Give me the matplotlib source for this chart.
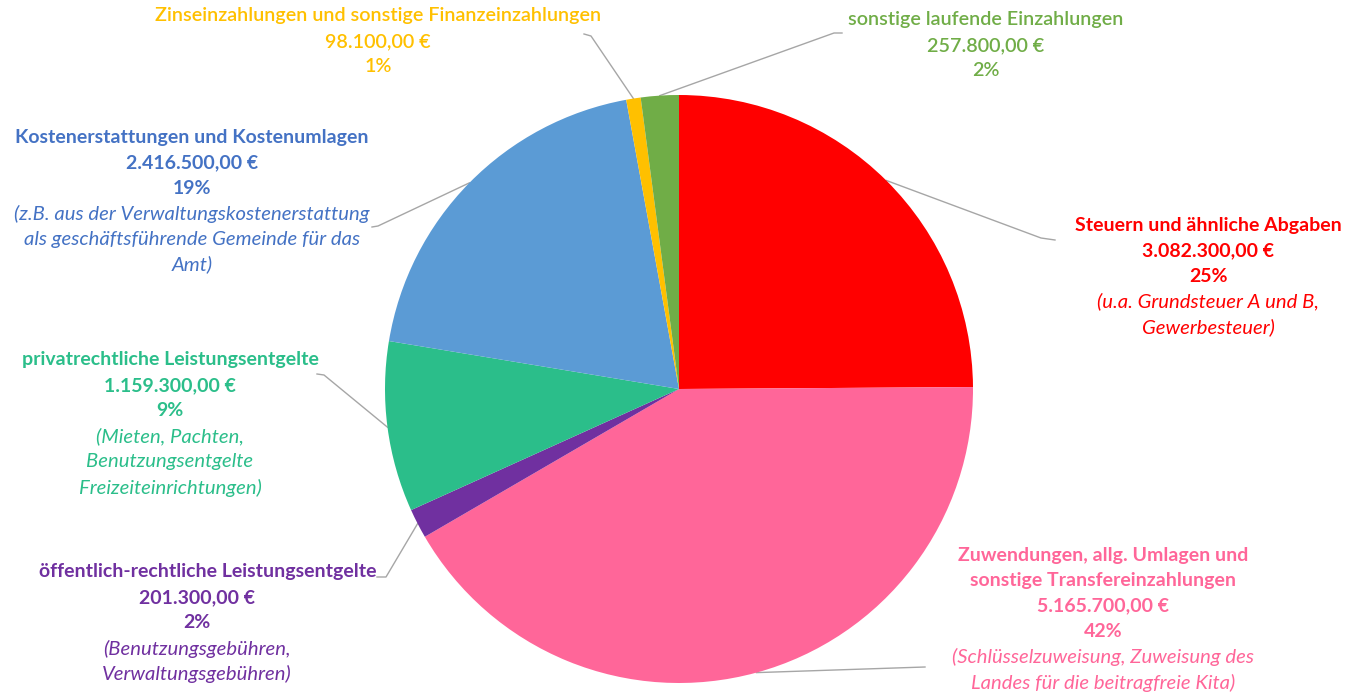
import matplotlib.pyplot as plt
import numpy as np

# Einzahlungen aus laufender Verwaltungstaetigkeit
categories = [
    ['Steuern und ähnliche Abgaben'],
    ['Zuwendungen, allg. Umlagen und', 'sonstige Transfereinzahlungen'],
    ['öffentlich-rechtliche Leistungsentgelte'],
    ['privatrechtliche Leistungsentgelte'],
    ['Kostenerstattungen und Kostenumlagen'],
    ['Zinseinzahlungen und sonstige Finanzeinzahlungen'],
    ['sonstige laufende Einzahlungen'],
]
values = [3082300, 5165700, 201300, 1159300, 2416500, 98100, 257800]
percent_labels = ['25%', '42%', '2%', '9%', '19%', '1%', '2%']
notes = [
    ['(u.a. Grundsteuer A und B,', 'Gewerbesteuer)'],
    ['(Schlüsselzuweisung, Zuweisung des', 'Landes für die beitragfreie Kita)'],
    ['(Benutzungsgebühren,', 'Verwaltungsgebühren)'],
    ['(Mieten, Pachten,', 'Benutzungsentgelte', 'Freizeiteinrichtungen)'],
    ['(z.B. aus der Verwaltungskostenerstattung', 'als geschäftsführende Gemeinde für das', 'Amt)'],
    [],
    [],
]
slice_colors = ['#FF0000', '#FF6699', '#7030A0', '#2BBE8A', '#5B9BD5', '#FFC000', '#70AD47']
text_colors = ['#FF0000', '#FF6699', '#7030A0', '#2BBE8A', '#4472C4', '#FFC000', '#70AD47']

# label layout in pixels from the top of the picture
label_pos = [(1208, 225), (1103, 555), (197, 572), (170, 360), (192, 137), (378, 16), (986, 20)]
title_dx = [0, 0, 11, 0, 0, 0, 0]
leader_pts = [
    [(1055, 240), (1041, 238)],
    [(925, 667)],
    [(377, 577), (386, 577)],
    [(317, 374), (324, 375)],
    [(372, 227), (378, 226)],
    [(584, 34), (591, 36)],
    [(842, 33), (834, 33)],
]
narrow = [False, False, False, False, False, True, True]

W, H = 1353, 693
CX, CY, R = 679, 389, 294
STEP = 25.5


def euro(v):
    s = f"{v:,.2f}"
    return s.replace(',', 'X').replace('.', ',').replace('X', '.') + ' €'


fig = plt.figure(figsize=(W / 100, H / 100), dpi=100)
ax = fig.add_axes([0, 0, 1, 1])

wedges, _ = ax.pie(values, colors=slice_colors, startangle=90, counterclock=False,
                   center=(CX, H - CY), radius=R,
                   wedgeprops=dict(linewidth=0))
ax.set_xlim(0, W)
ax.set_ylim(0, H)
ax.set_aspect('equal')
ax.axis('off')

main_font = ['Lato', 'DejaVu Sans']

for i, w in enumerate(wedges):
    # leader line from label to the middle of the slice edge
    mid = np.deg2rad((w.theta1 + w.theta2) / 2)
    px = CX + R * np.cos(mid)
    py = (H - CY) + R * np.sin(mid)
    xs = [p[0] for p in leader_pts[i]] + [px]
    ys = [H - p[1] for p in leader_pts[i]] + [py]
    ax.plot(xs, ys, color='#A6A6A6', lw=1.0, zorder=0)

    x0, y0 = label_pos[i]
    lines = [(t, 'title') for t in categories[i]]
    lines += [(euro(values[i]), 'bold'), (percent_labels[i], 'bold')]
    lines += [(t, 'italic') for t in notes[i]]
    for k, (t, st) in enumerate(lines):
        y = H - (y0 + k * STEP)
        x = x0 + (title_dx[i] if st == 'title' else 0)
        if narrow[i]:
            ax.text(x, y, t, ha='center', va='center', color=text_colors[i],
                    fontsize=14.2, family=main_font, fontweight='semibold')
        elif st == 'italic':
            ax.text(x, y, t, ha='center', va='center', color=text_colors[i],
                    fontsize=14.6, family=main_font, fontstyle='italic')
        else:
            ax.text(x, y, t, ha='center', va='center', color=text_colors[i],
                    fontsize=14, family=main_font, fontweight='bold')

fig.savefig('out.png', dpi=100)
